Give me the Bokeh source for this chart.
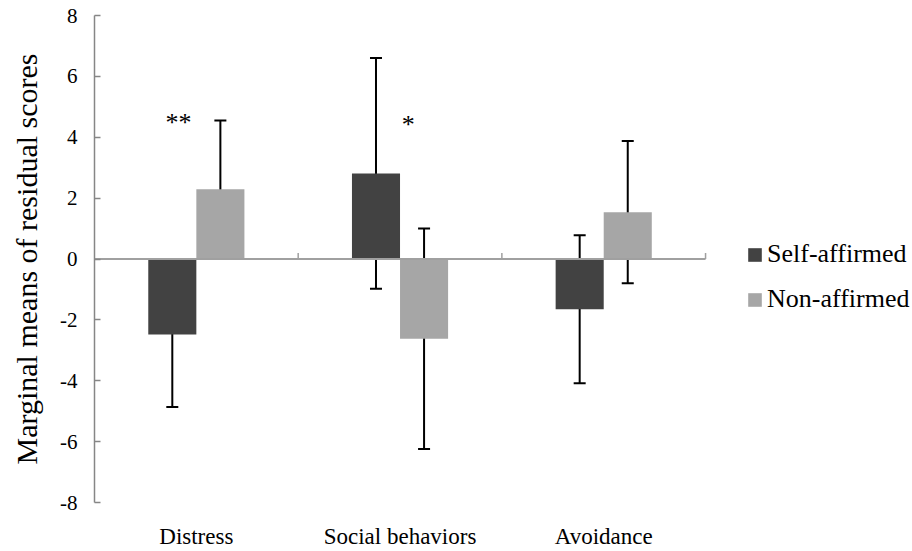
from bokeh.plotting import figure
from bokeh.models import (Range1d, FixedTicker, ColumnDataSource, Whisker, TeeHead,
                          Legend, LegendItem)
from bokeh.core.properties import value
from bokeh.embed import file_html
from bokeh.resources import INLINE

# ---- data ----
categories = ["Distress", "Social behaviors", "Avoidance"]
self_affirmed = [-2.48, 2.81, -1.65]
self_affirmed_err = [2.38, 3.79, 2.43]
non_affirmed = [2.29, -2.62, 1.54]
non_affirmed_err = [2.26, 3.62, 2.34]
sig_labels = ["**", "*"]
y_ticks = [-8, -6, -4, -2, 0, 2, 4, 6, 8]

FONT = "Liberation Serif"
DARK = "#424242"
LIGHT = "#a6a6a6"
AXIS_GRAY = "#868686"

n = len(categories)
centers = [i + 0.5 for i in range(n)]
bar_w = 0.236
sa_x = [c - bar_w / 2 for c in centers]
na_x = [c + bar_w / 2 for c in centers]

sa_src = ColumnDataSource(dict(
    x=sa_x, top=self_affirmed,
    upper=[m + e for m, e in zip(self_affirmed, self_affirmed_err)],
    lower=[m - e for m, e in zip(self_affirmed, self_affirmed_err)]))
na_src = ColumnDataSource(dict(
    x=na_x, top=non_affirmed,
    upper=[m + e for m, e in zip(non_affirmed, non_affirmed_err)],
    lower=[m - e for m, e in zip(non_affirmed, non_affirmed_err)]))

p = figure(width=912, height=551, x_range=Range1d(0, 4.016), y_range=Range1d(-8, 8),
           output_backend="svg", toolbar_location=None,
           min_border_left=94, min_border_right=0, min_border_top=15, min_border_bottom=49)
p.outline_line_color = None
p.xgrid.visible = False
p.ygrid.visible = False
p.background_fill_color = "white"

r_sa = p.vbar(x="x", top="top", bottom=0, width=bar_w, source=sa_src,
              fill_color=DARK, line_color=None)
r_na = p.vbar(x="x", top="top", bottom=0, width=bar_w, source=na_src,
              fill_color=LIGHT, line_color=None)

# category axis drawn at zero
p.segment(x0=[0], y0=[0], x1=[n], y1=[0], line_color="#a0a0a0", line_width=2)
p.segment(x0=list(range(1, n + 1)), y0=[0] * n, x1=list(range(1, n + 1)), y1=[0.2] * n,
          line_color="#a0a0a0", line_width=1.5)

for src in (sa_src, na_src):
    w = Whisker(source=src, base="x", upper="upper", lower="lower",
                line_color="black", line_width=2,
                upper_head=TeeHead(size=12, line_width=2, line_color="black"),
                lower_head=TeeHead(size=12, line_width=2, line_color="black"))
    p.add_layout(w)

# significance markers
p.text(x=[centers[0] - 0.087, centers[1] + 0.04], y=[4.5, 4.43], text=sig_labels,
       text_font=value(FONT), text_font_size="26px", text_align="center",
       text_baseline="alphabetic", text_color="black")

# x axis: category labels only
p.xaxis.ticker = FixedTicker(ticks=centers)
p.xaxis.major_label_overrides = {c: lab for c, lab in zip(centers, categories)}
p.xaxis.axis_line_color = None
p.xaxis.major_tick_line_color = None
p.xaxis.minor_tick_line_color = None
p.xaxis.major_label_standoff = 15
p.xaxis.major_label_text_font = FONT
p.xaxis.major_label_text_font_size = "23px"
p.xaxis.major_label_text_color = "black"

# y axis
p.yaxis.ticker = FixedTicker(ticks=y_ticks)
p.yaxis.major_label_overrides = {t: str(t) for t in y_ticks}
p.yaxis.axis_line_color = AXIS_GRAY
p.yaxis.axis_line_width = 1.5
p.yaxis.major_tick_line_color = AXIS_GRAY
p.yaxis.major_tick_line_width = 1.5
p.yaxis.major_tick_in = 6
p.yaxis.major_tick_out = 0
p.yaxis.minor_tick_line_color = None
p.yaxis.major_label_standoff = 17
p.yaxis.major_label_text_font = FONT
p.yaxis.major_label_text_font_size = "21px"
p.yaxis.major_label_text_color = "black"
p.yaxis.axis_label = "Marginal means of residual scores"
p.yaxis.axis_label_text_font = FONT
p.yaxis.axis_label_text_font_size = "30px"
p.yaxis.axis_label_text_font_style = "normal"
p.yaxis.axis_label_text_color = "black"
p.yaxis.axis_label_standoff = 14

legend = Legend(items=[LegendItem(label="Self-affirmed", renderers=[r_sa]),
                       LegendItem(label="Non-affirmed", renderers=[r_na])],
                location=(652, 188), padding=0, margin=0,
                border_line_color=None, background_fill_alpha=0,
                label_text_font=FONT, label_text_font_size="26px",
                label_text_color="black",
                glyph_width=17, glyph_height=17, label_standoff=4,
                label_height=30, spacing=15)
p.add_layout(legend)

open("out.html", "w").write(file_html(p, INLINE))
